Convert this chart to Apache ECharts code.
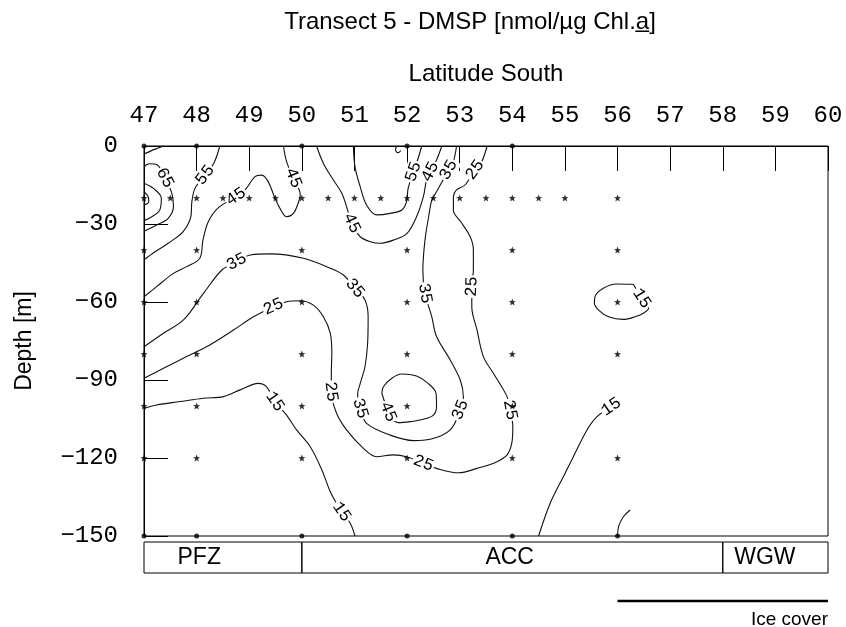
<!DOCTYPE html>
<html>
<head>
<meta charset="utf-8">
<title>Transect 5 - DMSP</title>
<script src="https://cdn.jsdelivr.net/npm/echarts@6/dist/echarts.min.js"></script>
<style>
  html, body { margin: 0; padding: 0; background: #fff; }
  #chart { width: 846px; height: 627px; }
</style>
</head>
<body>
<div id="chart"></div>
<script>
// Axis ticks
const latitudeTicks = [47, 48, 49, 50, 51, 52, 53, 54, 55, 56, 57, 58, 59, 60];
const depthTicks = [0, -30, -60, -90, -120, -150];

// Sampling stations: surface / bottom marks and water samples [lat, depth]
const rimStations = [
  [47, 0], [48, 0], [50, 0], [52, 0], [54, 0],
  [47, -150], [48, -150], [50, -150], [52, -150], [54, -150], [56, -150]
];
const sampleStations = [
  [47, -20], [47.5, -20], [48, -20], [48.5, -20], [49, -20], [49.5, -20], [50, -20],
  [50.5, -20], [51, -20], [51.5, -20], [52, -20], [52.5, -20], [53, -20], [53.5, -20],
  [54, -20], [54.5, -20], [55, -20], [56, -20],
  [47, -40], [48, -40], [50, -40], [52, -40], [54, -40], [56, -40],
  [47, -60], [48, -60], [50, -60], [52, -60], [54, -60], [56, -60],
  [47, -80], [48, -80], [50, -80], [52, -80], [54, -80], [56, -80],
  [47, -100], [48, -100], [50, -100], [52, -100], [54, -100],
  [47, -120], [48, -120], [50, -120], [52, -120], [54, -120], [56, -120]
];

// Isolines of DMSP (nmol/ug Chl a), points as [lat, depth]
const iso85 = [[47, -17.6], [47.08, -19.5], [47.09, -21.4], [47, -22.7]];
const iso75 = [[47, -14.3], [47.18, -16.3], [47.33, -20.1], [47.3, -24.6], [47.15, -27.2], [47, -28.7]];
const iso65 = [[47, -8.0], [47.1, -6.8], [47.24, -7.1], [47.4, -12.3], [47.53, -18.2], [47.56, -23.3],
  [47.46, -27.8], [47.24, -30.4], [47.05, -32.3], [47, -32.7]];
const iso55West = [[48.44, 0], [48.33, -6.5], [48.16, -11.2], [47.97, -16.3], [47.91, -21.4], [47.89, -27.2],
  [47.74, -33.0], [47.46, -37.4], [47.21, -40.7], [47, -43.8]];
const iso55East = [[50.98, 0], [51.01, -8.0], [51.11, -15.7], [51.23, -22.7], [51.42, -26.5], [51.68, -25.9],
  [51.9, -24.6], [51.99, -21.4], [52.02, -16.3], [52.12, -9.9], [52.21, -4.7], [52.28, 0]];
const iso55Top = [[51.8, 0], [51.78, -1.5], [51.83, -2.6], [51.88, -1.8]];
const iso45West = [[47, -58.0], [47.24, -54.1], [47.56, -49.0], [47.81, -46.4], [48.06, -43.2], [48.12, -36.2],
  [48.22, -29.2], [48.41, -23.8], [48.75, -19.5], [48.92, -16.9], [49.11, -11.8], [49.24, -11.2],
  [49.36, -13.7], [49.49, -20.1], [49.62, -25.3], [49.71, -27.2], [49.84, -25.9], [49.93, -22.0],
  [49.97, -18.8], [49.84, -12.3], [49.71, -6.0], [49.65, 0]];
const iso45East = [[50.28, 0], [50.41, -6.7], [50.6, -13.1], [50.76, -18.2], [50.85, -23.3], [50.95, -29.7],
  [51.11, -34.9], [51.3, -36.8], [51.49, -37.4], [51.74, -36.2], [52.0, -33.6], [52.18, -27.2],
  [52.31, -19.5], [52.37, -13.1], [52.44, -9.9], [52.56, -5.4], [52.66, 0]];
const iso45Core = [[51.52, -95.1], [51.55, -92.6], [51.71, -89.3], [51.9, -87.7], [52.18, -88.5], [52.4, -91.3],
  [52.55, -95.1], [52.56, -100.3], [52.5, -103.5], [52.31, -105.1], [52.06, -106.0], [51.83, -106.4],
  [51.72, -105.2], [51.64, -102.2], [51.52, -95.1]];
const iso35 = [[47, -77.2], [47.37, -72.0], [47.75, -66.9], [48.13, -56.7], [48.48, -47.7], [48.76, -44.5],
  [49.02, -41.9], [49.4, -41.5], [50.03, -43.2], [50.54, -47.0], [50.79, -49.6], [51.01, -54.7],
  [51.2, -59.2], [51.26, -65.7], [51.25, -75.9], [51.2, -84.9], [51.11, -91.3], [51.06, -95.5],
  [51.11, -100.9], [51.23, -106.7], [51.68, -111.2], [52.12, -113.3], [52.44, -112.8], [52.82, -109.2],
  [53.01, -101.5], [53.07, -96.4], [53.01, -90.0], [52.82, -82.3], [52.56, -73.3], [52.47, -65.7],
  [52.34, -56.7], [52.3, -47.7], [52.34, -36.2], [52.41, -27.2], [52.47, -20.8], [52.56, -17.6],
  [52.79, -9.2], [52.88, -6.0], [52.94, 0]];
const iso25 = [[47, -89.3], [47.37, -85.5], [47.81, -81.0], [48.25, -76.5], [48.7, -70.8], [49.08, -65.7],
  [49.46, -61.8], [49.71, -59.9], [49.97, -59.5], [50.22, -61.2], [50.41, -65.7], [50.54, -72.0],
  [50.57, -79.7], [50.56, -87.4], [50.56, -94.5], [50.66, -102.8], [50.85, -109.2], [51.17, -116.3],
  [51.42, -119.5], [51.74, -118.8], [51.99, -119.5], [52.31, -122.0], [52.56, -124.0], [52.98, -125.7],
  [53.33, -124.0], [53.71, -121.4], [53.9, -118.8], [53.99, -114.3], [54.01, -108.0], [53.96, -101.5],
  [53.9, -96.4], [53.64, -87.4], [53.45, -81.0], [53.33, -70.8], [53.23, -61.8], [53.23, -54.1],
  [53.26, -47.7], [53.26, -40.0], [53.2, -34.9], [53.04, -29.7], [52.88, -24.6], [52.88, -19.5],
  [52.94, -16.9], [53.1, -15.0], [53.29, -9.2], [53.42, -6.0], [53.52, 0]];
const iso15West = [[47, -100.9], [47.24, -99.6], [47.68, -98.3], [48.13, -97.0], [48.51, -96.4], [48.83, -93.8],
  [49.17, -91.3], [49.33, -92.6], [49.49, -98.3], [49.71, -103.5], [49.9, -109.2], [50.16, -115.7],
  [50.38, -124.6], [50.54, -133.0], [50.66, -137.4], [50.76, -140.7], [50.92, -145.1], [51.01, -150]];
const iso15East = [[54.5, -150], [54.72, -137.4], [54.97, -127.2], [55.16, -119.5], [55.42, -109.2],
  [55.61, -104.1], [55.88, -100.3]];
const iso15Pocket = [[56.3, -53.2], [55.99, -53.1], [55.73, -54.7], [55.57, -58.0], [55.56, -60.5], [55.64, -63.1],
  [55.83, -65.7], [56.11, -66.7], [56.33, -65.7], [56.49, -64.3], [56.59, -62.4], [56.46, -58.6], [56.3, -53.2]];
const iso15South = [[56, -150], [56.02, -146.4], [56.11, -142.6], [56.24, -140]];
const cornerArc = [[47, -3.1], [47.2, -1.3], [47.37, 0]];

// Isoline labels: [value, lat, depth]
const isoLabels = [
  [65, 47.4, -12.3], [55, 48.16, -11.2], [45, 48.75, -19.5], [45, 49.84, -12.3],
  [45, 50.95, -29.7], [55, 52.12, -9.9], [45, 52.44, -9.9], [35, 52.79, -9.2],
  [25, 53.29, -9.2], [35, 48.76, -44.5], [35, 51.01, -54.7], [35, 52.34, -56.7],
  [25, 53.23, -54.1], [25, 49.46, -61.8], [25, 50.56, -94.5], [35, 51.11, -100.9],
  [45, 51.64, -102.2], [35, 53.01, -101.5], [25, 53.96, -101.5], [25, 52.31, -122.0],
  [15, 49.49, -98.3], [15, 50.76, -140.7], [15, 55.88, -100.3], [15, 56.46, -58.6]
];

// Water masses along the transect
const zoneNames = ['PFZ', 'ACC', 'WGW'];
const zoneFrom = [47, 50, 58];
const zoneTo = [50, 58, 60];

// Ice-covered part of the transect
const iceCoverLat = [56, 60];

const contourLines = [
  { level: 85, pts: iso85 }, { level: 75, pts: iso75 }, { level: 65, pts: iso65 },
  { level: 55, pts: iso55West }, { level: 55, pts: iso55East }, { level: 55, pts: iso55Top },
  { level: 45, pts: iso45West }, { level: 45, pts: iso45East }, { level: 45, pts: iso45Core },
  { level: 35, pts: iso35 }, { level: 25, pts: iso25 },
  { level: 15, pts: iso15West }, { level: 15, pts: iso15East }, { level: 15, pts: iso15Pocket },
  { level: 15, pts: iso15South }, { level: 55, pts: cornerArc }
];

const monoFont = '"Liberation Mono", "DejaVu Sans Mono", monospace';
const sansFont = '"Liberation Sans", Arial, sans-serif';
const minus = v => (v < 0 ? '\u2212' + Math.abs(v) : String(v));

const chart = echarts.init(document.getElementById('chart'), null, { renderer: 'canvas' });

const lineSeries = contourLines.map(c => ({
  type: 'line',
  xAxisIndex: 0, yAxisIndex: 0,
  data: c.pts,
  smooth: 0.35,
  symbol: 'none',
  lineStyle: { color: '#111', width: 1.1 },
  silent: true,
  z: 2
}));

// label text follows the local direction of its isoline
function labelAngle(level, lat, depth, api) {
  const here = api.coord([lat, depth]);
  let best = null, bestD = Infinity;
  contourLines.forEach(c => {
    if (c.level !== level) return;
    c.pts.forEach((p, i) => {
      const q = api.coord(p);
      const d = (q[0] - here[0]) ** 2 + (q[1] - here[1]) ** 2;
      if (d < bestD) { bestD = d; best = { pts: c.pts, i }; }
    });
  });
  if (!best) return 0;
  const a = api.coord(best.pts[Math.max(0, best.i - 1)]);
  const b = api.coord(best.pts[Math.min(best.pts.length - 1, best.i + 1)]);
  let ang = -Math.atan2(b[1] - a[1], b[0] - a[0]) * 180 / Math.PI;
  if (ang > 90) ang -= 180;
  if (ang < -90) ang += 180;
  return ang;
}

const zoneTextLat = [48.05, 53.95, 58.8];

const option = {
  animation: false,
  backgroundColor: '#fff',
  grid: [
    { left: 144, right: 18, top: 146, bottom: 91, show: true, borderColor: '#000', borderWidth: 1,
      backgroundColor: 'transparent', containLabel: false, outerBoundsMode: 'none' },
    { left: 144, right: 18, top: 542, height: 31, containLabel: false, outerBoundsMode: 'none' },
    { left: 144, right: 18, top: 596, height: 10, containLabel: false, outerBoundsMode: 'none' }
  ],
  xAxis: [
    {
      type: 'value', gridIndex: 0, position: 'top',
      min: latitudeTicks[0], max: latitudeTicks[latitudeTicks.length - 1],
      interval: latitudeTicks[1] - latitudeTicks[0],
      name: 'Latitude South', nameLocation: 'middle', nameGap: 60, nameMoveOverlap: false,
      nameTextStyle: { fontFamily: sansFont, fontSize: 24, color: '#000' },
      axisLine: { show: true, lineStyle: { color: '#000', width: 1 } },
      axisTick: { show: true, inside: true, length: 25, lineStyle: { color: '#000', width: 1 } },
      axisLabel: { show: true, margin: 18, fontFamily: monoFont, fontSize: 24, color: '#000' },
      splitLine: { show: false }
    },
    { type: 'value', gridIndex: 1, min: 47, max: 60, show: false },
    { type: 'value', gridIndex: 2, min: 47, max: 60, show: false }
  ],
  yAxis: [
    {
      type: 'value', gridIndex: 0,
      min: depthTicks[depthTicks.length - 1], max: depthTicks[0],
      interval: depthTicks[0] - depthTicks[1],
      name: 'Depth [m]', nameLocation: 'middle', nameGap: 108, nameRotate: 90, nameMoveOverlap: false,
      nameTextStyle: { fontFamily: sansFont, fontSize: 23, color: '#000' },
      axisLine: { show: true, lineStyle: { color: '#000', width: 1 } },
      axisTick: { show: true, inside: true, length: 24, lineStyle: { color: '#000', width: 1 } },
      axisLabel: { show: true, margin: 26, fontFamily: monoFont, fontSize: 24, color: '#000', formatter: minus },
      splitLine: { show: false }
    },
    { type: 'value', gridIndex: 1, min: 0, max: 1, show: false },
    { type: 'value', gridIndex: 2, min: -1, max: 1, show: false }
  ],
  graphic: [
    {
      type: 'text', x: 470, y: 22,
      style: { text: 'Transect 5 - DMSP [nmol/\u00b5g Chl.a\u0332]', fontFamily: sansFont, fontSize: 24,
        fill: '#000', align: 'center', verticalAlign: 'middle' }
    },
    {
      type: 'text', x: 828, y: 620,
      style: { text: 'Ice cover', fontFamily: sansFont, fontSize: 19, fill: '#000',
        align: 'right', verticalAlign: 'middle' }
    }
  ],
  series: [
    ...lineSeries,
    {
      type: 'custom',
      xAxisIndex: 0, yAxisIndex: 0,
      data: isoLabels,
      encode: { x: 1, y: 2 },
      clip: false,
      silent: true,
      z: 4,
      renderItem(params, api) {
        const [level, lat, depth] = isoLabels[params.dataIndex];
        const p = api.coord([lat, depth]);
        const ang = labelAngle(level, lat, depth, api);
        return {
          type: 'text', x: p[0], y: p[1], rotation: ang * Math.PI / 180,
          style: { text: String(level), fontFamily: monoFont, fontSize: 17, fill: '#000',
            align: 'center', verticalAlign: 'middle', backgroundColor: '#fff', padding: [0, 1] }
        };
      }
    },
    {
      type: 'scatter', xAxisIndex: 0, yAxisIndex: 0,
      data: sampleStations,
      symbol: 'path://M0,-10L2.6,-3.4L9.5,-3.1L4.1,1.3L5.9,8.1L0,4.2L-5.9,8.1L-4.1,1.3L-9.5,-3.1L-2.6,-3.4Z',
      symbolSize: 7,
      itemStyle: { color: '#000' },
      silent: true, z: 5
    },
    {
      type: 'scatter', xAxisIndex: 0, yAxisIndex: 0,
      data: rimStations,
      symbol: 'circle', symbolSize: 5,
      itemStyle: { color: '#000' },
      clip: false, silent: true, z: 5
    },
    {
      type: 'custom',
      xAxisIndex: 1, yAxisIndex: 1,
      data: zoneNames.map((n, i) => [zoneFrom[i], zoneTo[i]]),
      encode: { x: [0, 1] },
      clip: false, silent: true,
      renderItem(params, api) {
        const i = params.dataIndex;
        const a = api.coord([zoneFrom[i], 1]);
        const b = api.coord([zoneTo[i], 0]);
        const t = api.coord([zoneTextLat[i], 0.5]);
        return {
          type: 'group',
          children: [
            { type: 'rect', shape: { x: a[0], y: a[1], width: b[0] - a[0], height: b[1] - a[1] },
              style: { fill: 'none', stroke: '#000', lineWidth: 1 } },
            { type: 'text', x: t[0], y: t[1],
              style: { text: zoneNames[i], fontFamily: sansFont, fontSize: 23, fill: '#000',
                align: 'center', verticalAlign: 'middle' } }
          ]
        };
      }
    },
    {
      type: 'line', xAxisIndex: 2, yAxisIndex: 2,
      data: iceCoverLat.map(x => [x, 0]),
      symbol: 'none',
      lineStyle: { color: '#000', width: 2.5 },
      silent: true
    }
  ]
};

chart.setOption(option);
</script>
</body>
</html>
